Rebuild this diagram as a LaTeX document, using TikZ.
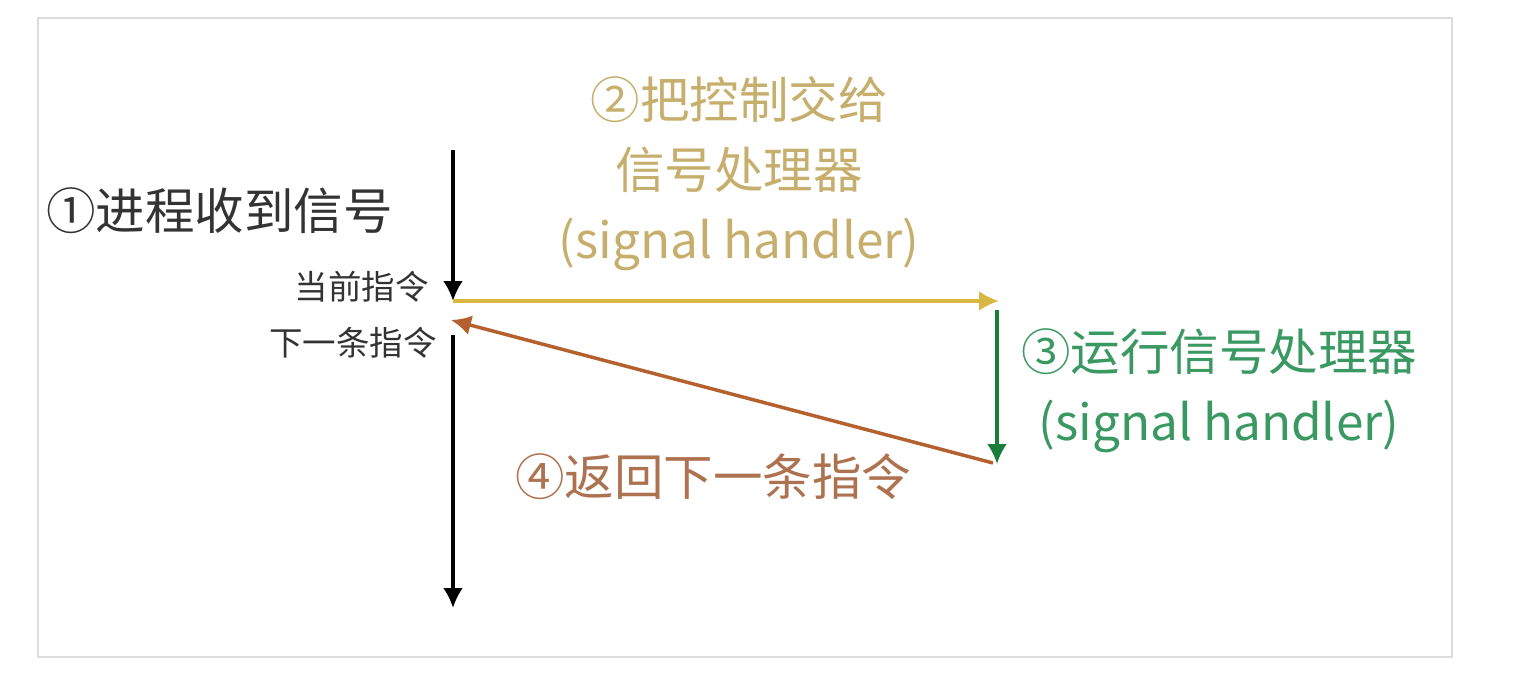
\documentclass[tikz,border=0pt]{standalone}
\usepackage{fontspec}
\setmainfont{Noto Sans CJK SC}
\usetikzlibrary{arrows.meta}
\definecolor{frame}{HTML}{DCDCDC}
\definecolor{txtdark}{HTML}{333333}
\definecolor{yarrow}{HTML}{D8B842}
\definecolor{ytext}{HTML}{C6AE6C}
\definecolor{garrow}{HTML}{1B7D3A}
\definecolor{gtext}{HTML}{3A9862}
\definecolor{barrow}{HTML}{B5612F}
\definecolor{btext}{HTML}{AD7250}
\tikzset{
  big/.style={font=\fontsize{49.5}{70}\selectfont, inner sep=0pt, align=center},
  small/.style={font=\fontsize{33.5}{36}\selectfont, inner sep=0pt, text=txtdark},
  arr/.style={line width=3.5pt, -{Latex[length=20pt,width=20pt]}},
}
\begin{document}
\begin{tikzpicture}[x=1pt,y=-1pt]
\useasboundingbox (0,0) rectangle (1521,675);
\draw[frame, line width=2pt] (38,18) rectangle (1452,657);

% text
\node[big, text=txtdark, anchor=west] (t1) at (46,211) {①进程收到信号};
\node[small, anchor=east] (cur) at (429,287) {当前指令};
\node[small, anchor=east] (nxt) at (437,343) {下一条指令};
\node[big, text=ytext] (t2) at (739,174) {②把控制交给\\信号处理器\\(signal handler)};
\node[big, text=gtext] (t3) at (1219,391) {③运行信号处理器\\(signal handler)};
\node[big, text=btext] (t4) at (713,477) {④返回下一条指令};

% points
\coordinate (a0) at (453,150);
\coordinate (a1) at (453,301);
\coordinate (b0) at (453,335);
\coordinate (b1) at (453,608);
\coordinate (y1) at (999,301);
\coordinate (g0) at (997,310);
\coordinate (g1) at (997,464);
\coordinate (r0) at (993,463);
\coordinate (r1) at (451,320);

\draw[arr, black] (a0) -- (a1);
\draw[arr, black] (b0) -- (b1);
\draw[arr, yarrow] (a1) -- (y1);
\draw[arr, garrow] (g0) -- (g1);
\draw[arr, barrow] (r0) -- (r1);
\end{tikzpicture}
\end{document}
